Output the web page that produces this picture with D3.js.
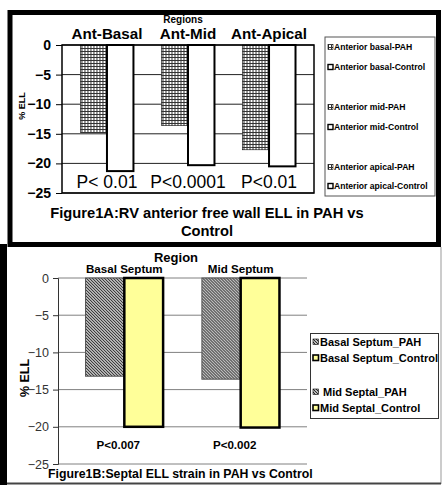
<!DOCTYPE html>
<html>
<head>
<meta charset="utf-8">
<script src="https://cdn.jsdelivr.net/npm/d3@7"></script>
<style>
  body { margin: 0; background: #fff; }
  svg { display: block; font-family: "Liberation Sans", Arial, sans-serif; }
</style>
</head>
<body>
<div id="chart"></div>
<script>
// data - figure 1A
var topCategories = ["Ant-Basal", "Ant-Mid", "Ant-Apical"];
var topPah = [-14.8, -13.6, -17.7];
var topControl = [-21.3, -20.3, -20.5];
var topPvalues = ["P< 0.01", "P<0.0001", "P<0.01"];
var topLegend = ["Anterior basal-PAH", "Anterior basal-Control", "Anterior mid-PAH",
                 "Anterior mid-Control", "Anterior apical-PAH", "Anterior apical-Control"];

// data - figure 1B
var bottomCategories = ["Basal Septum", "Mid Septum"];
var bottomPah = [-13.2, -13.6];
var bottomControl = [-20.0, -20.1];
var bottomPvalues = ["P<0.007", "P<0.002"];
var bottomLegend = ["Basal Septum_PAH", "Basal Septum_Control", " Mid Septal_PAH", "Mid Septal_Control"];

var yTicks = [0, -5, -10, -15, -20, -25];
var series = ["PAH", "Control"];

var svg = d3.select("#chart").append("svg").attr("width", 443).attr("height", 485);
var defs = svg.append("defs");

// fine grid fill for top PAH bars
var grid = defs.append("pattern").attr("id", "gridfill")
    .attr("patternUnits", "userSpaceOnUse").attr("width", 3).attr("height", 3);
grid.append("rect").attr("width", 3).attr("height", 3).attr("fill", "#fff");
grid.append("rect").attr("width", 3).attr("height", 1).attr("fill", "#333");
grid.append("rect").attr("width", 1).attr("height", 3).attr("fill", "#333");

// diagonal hatch for bottom PAH bars
var hatch = defs.append("pattern").attr("id", "hatch")
    .attr("patternUnits", "userSpaceOnUse").attr("width", 3).attr("height", 3);
hatch.append("rect").attr("width", 3).attr("height", 3).attr("fill", "#fff");
hatch.append("path").attr("d", "M-1,-1 L4,4 M-1,2 L1,4 M2,-1 L4,1")
    .attr("stroke", "#222").attr("stroke-width", 1.2);

// ---------------- FIGURE 1A ----------------
svg.append("rect")
    .attr("x", 10).attr("y", 12.5).attr("width", 428.5).attr("height", 232)
    .attr("fill", "#fff").attr("stroke", "#000").attr("stroke-width", 5);

var y1 = d3.scaleLinear().domain([-25, 0]).range([193, 45]);
var x1 = d3.scaleBand().domain(topCategories).range([62, 314]).paddingInner(0).paddingOuter(0.055);
var x1s = d3.scaleBand().domain(series).range([0, x1.bandwidth()]).paddingInner(0).paddingOuter(0.53);

var g1 = svg.append("g");

// gridlines
g1.selectAll("line.grid")
  .data(yTicks)
  .enter().append("line")
    .attr("x1", 62).attr("x2", 314)
    .attr("y1", function(d) { return y1(d); })
    .attr("y2", function(d) { return y1(d); })
    .attr("stroke", "#222").attr("stroke-width", 1);

var topRows = topCategories.map(function(c, i) {
  return {cat: c, values: [{key: "PAH", v: topPah[i]}, {key: "Control", v: topControl[i]}]};
});

var grp1 = g1.selectAll("g.group")
  .data(topRows)
  .enter().append("g")
    .attr("transform", function(d) { return "translate(" + x1(d.cat) + ",0)"; });

grp1.selectAll("rect")
  .data(function(d) { return d.values; })
  .enter().append("rect")
    .attr("x", function(d) { return x1s(d.key); })
    .attr("width", x1s.bandwidth())
    .attr("y", y1(0))
    .attr("height", function(d) { return y1(d.v) - y1(0); })
    .attr("fill", function(d) { return d.key === "PAH" ? "url(#gridfill)" : "#fff"; })
    .attr("stroke", "#000")
    .attr("stroke-width", function(d) { return d.key === "PAH" ? 0.6 : 2; });

// plot box
g1.append("rect").attr("x", 62).attr("y", 45).attr("width", 252).attr("height", 148)
    .attr("fill", "none").attr("stroke", "#000").attr("stroke-width", 1.5);

// y axis
var ax1 = g1.append("g").attr("transform", "translate(62,0)")
    .call(d3.axisLeft(y1).tickValues(yTicks).tickSize(6).tickPadding(5));
ax1.select(".domain").remove();
ax1.selectAll("line").attr("stroke", "#000");
ax1.selectAll("text").attr("font-size", 14).attr("font-weight", "bold").attr("fill", "#000")
    .attr("font-family", "Liberation Sans, Arial, sans-serif");

// category labels at top
g1.selectAll("text.cat")
  .data(topCategories)
  .enter().append("text")
    .attr("x", function(d) { return x1(d) + x1.bandwidth() / 2; })
    .attr("y", 39)
    .attr("text-anchor", "middle")
    .attr("font-size", 15.2).attr("font-weight", "bold")
    .text(function(d) { return d; });

g1.append("text").attr("x", 183).attr("y", 23).attr("text-anchor", "middle")
    .attr("font-size", 10).attr("font-weight", "bold").text("Regions");

// p values
g1.selectAll("text.pval")
  .data(topPvalues)
  .enter().append("text")
    .attr("x", function(d, i) { return x1(topCategories[i]) + x1.bandwidth() / 2; })
    .attr("y", 188)
    .attr("text-anchor", "middle")
    .attr("font-size", 17.5)
    .text(function(d) { return d; });

g1.append("text").attr("transform", "translate(25,106) rotate(-90)")
    .attr("text-anchor", "middle").attr("font-size", 9).attr("font-weight", "bold").text("% ELL");

// legend
g1.append("rect").attr("x", 325).attr("y", 37).attr("width", 110).attr("height", 159)
    .attr("fill", "#fff").attr("stroke", "#555").attr("stroke-width", 1);
var legTopY = [47, 67, 107, 127, 167, 186];
var lg1 = g1.selectAll("g.leg")
  .data(topLegend)
  .enter().append("g")
    .attr("transform", function(d, i) { return "translate(328," + legTopY[i] + ")"; });
lg1.append("rect")
    .attr("x", 0).attr("y", -2.5).attr("width", 5).attr("height", 5)
    .attr("fill", function(d, i) { return i % 2 === 0 ? "url(#gridfill)" : "#fff"; })
    .attr("stroke", "#000").attr("stroke-width", function(d, i) { return i % 2 === 0 ? 0.6 : 1.4; });
lg1.append("text")
    .attr("x", 6).attr("y", 3)
    .attr("font-size", 8.6).attr("font-weight", "bold")
    .text(function(d) { return d; });

// caption
g1.append("text").attr("x", 207).attr("y", 218).attr("text-anchor", "middle")
    .attr("font-size", 14.7).attr("font-weight", "bold")
    .text("Figure1A:RV anterior free wall ELL in PAH vs");
g1.append("text").attr("x", 207).attr("y", 236).attr("text-anchor", "middle")
    .attr("font-size", 14.7).attr("font-weight", "bold").text("Control");

// ---------------- FIGURE 1B ----------------
var g2 = svg.append("g");
g2.append("line").attr("x1", 441).attr("x2", 441).attr("y1", 247).attr("y2", 484)
    .attr("stroke", "#999").attr("stroke-width", 1);
g2.append("line").attr("x1", 0).attr("x2", 441).attr("y1", 483.5).attr("y2", 483.5)
    .attr("stroke", "#444").attr("stroke-width", 2);
g2.append("line").attr("x1", 3.5).attr("x2", 3.5).attr("y1", 244).attr("y2", 485)
    .attr("stroke", "#000").attr("stroke-width", 7);

var y2 = d3.scaleLinear().domain([-25, 0]).range([464, 278]);
var x2 = d3.scaleBand().domain(bottomCategories).range([58, 307]).paddingInner(0).paddingOuter(0.07);
var x2s = d3.scaleBand().domain(series).range([0, x2.bandwidth()]).paddingInner(0).paddingOuter(0.5);

g2.selectAll("line.grid")
  .data(yTicks)
  .enter().append("line")
    .attr("x1", 58).attr("x2", 307)
    .attr("y1", function(d) { return y2(d); })
    .attr("y2", function(d) { return y2(d); })
    .attr("stroke", "#808080").attr("stroke-width", 1);

var bottomRows = bottomCategories.map(function(c, i) {
  return {cat: c, values: [{key: "PAH", v: bottomPah[i]}, {key: "Control", v: bottomControl[i]}]};
});

var grp2 = g2.selectAll("g.group")
  .data(bottomRows)
  .enter().append("g")
    .attr("transform", function(d) { return "translate(" + x2(d.cat) + ",0)"; });

grp2.selectAll("rect")
  .data(function(d) { return d.values; })
  .enter().append("rect")
    .attr("x", function(d) { return x2s(d.key); })
    .attr("width", x2s.bandwidth())
    .attr("y", y2(0))
    .attr("height", function(d) { return y2(d.v) - y2(0); })
    .attr("fill", function(d) { return d.key === "PAH" ? "url(#hatch)" : "#ffff99"; })
    .attr("stroke", function(d) { return d.key === "PAH" ? "#555" : "#000"; })
    .attr("stroke-width", function(d) { return d.key === "PAH" ? 1 : 2.5; });

var ax2 = g2.append("g").attr("transform", "translate(58,0)")
    .call(d3.axisLeft(y2).tickValues(yTicks).tickSize(5).tickPadding(4));
ax2.select(".domain").attr("stroke", "#333");
ax2.selectAll("line").attr("stroke", "#333");
ax2.selectAll("text").attr("font-size", 12.5).attr("fill", "#333")
    .attr("font-family", "Liberation Sans, Arial, sans-serif");

g2.selectAll("text.cat")
  .data(bottomCategories)
  .enter().append("text")
    .attr("x", function(d) { return x2(d) + x2.bandwidth() / 2; })
    .attr("y", 273)
    .attr("text-anchor", "middle")
    .attr("font-size", 11.6).attr("font-weight", "bold")
    .text(function(d) { return d; });

g2.append("text").attr("x", 176).attr("y", 262).attr("text-anchor", "middle")
    .attr("font-size", 13).attr("font-weight", "bold").text("Region");

g2.selectAll("text.pval")
  .data(bottomPvalues)
  .enter().append("text")
    .attr("x", function(d, i) { return x2(bottomCategories[i]) + x2.bandwidth() / 2 - 6; })
    .attr("y", 449)
    .attr("text-anchor", "middle")
    .attr("font-size", 11.6).attr("font-weight", "bold")
    .text(function(d) { return d; });

g2.append("text").attr("transform", "translate(29,378) rotate(-90)")
    .attr("text-anchor", "middle").attr("font-size", 12.5).attr("font-weight", "bold").text("% ELL");

// legend
g2.append("rect").attr("x", 310.5).attr("y", 333.5).attr("width", 128).attr("height", 85)
    .attr("fill", "#fff").attr("stroke", "#333").attr("stroke-width", 1);
var legBotY = [342, 358, 392, 408];
var lg2 = g2.selectAll("g.leg")
  .data(bottomLegend)
  .enter().append("g")
    .attr("transform", function(d, i) { return "translate(313," + legBotY[i] + ")"; });
lg2.append("rect")
    .attr("x", 0).attr("y", -3).attr("width", 5.5).attr("height", 5.5)
    .attr("fill", function(d, i) { return i % 2 === 0 ? "url(#hatch)" : "#ffff99"; })
    .attr("stroke", "#000").attr("stroke-width", function(d, i) { return i % 2 === 0 ? 0.6 : 1.6; });
lg2.append("text")
    .attr("x", 7).attr("y", 4)
    .attr("font-size", 11).attr("font-weight", "bold")
    .style("white-space", "pre")
    .text(function(d) { return d; });

g2.append("text").attr("x", 48).attr("y", 478)
    .attr("font-size", 12.3).attr("font-weight", "bold")
    .text("Figure1B:Septal ELL strain in PAH vs Control");
</script>
</body>
</html>
